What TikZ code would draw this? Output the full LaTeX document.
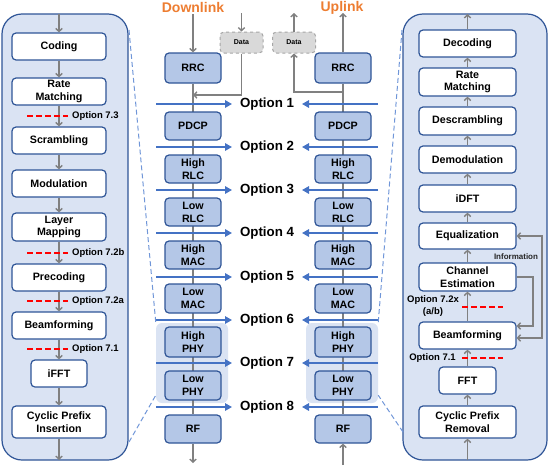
\documentclass[tikz,border=0pt]{standalone}
\usepackage{fontspec}
\setmainfont{Liberation Sans}
\usetikzlibrary{arrows.meta,calc}
\definecolor{bdr}{HTML}{2F5597}
\definecolor{bfill}{HTML}{B4C7E7}
\definecolor{pfill}{HTML}{DAE3F3}
\definecolor{oarr}{HTML}{4472C4}
\definecolor{gry}{HTML}{808080}
\definecolor{dfill}{HTML}{D9D9D9}
\definecolor{dbdr}{HTML}{A6A6A6}
\definecolor{orng}{HTML}{ED7D31}
\definecolor{zline}{HTML}{7096D8}
\pgfdeclarelayer{bga}\pgfdeclarelayer{bgb}\pgfsetlayers{bga,bgb,main}
\begin{document}
\begin{tikzpicture}[x=1pt,y=-1pt,
  wbox/.style={draw=bdr, line width=1.2pt, fill=white, rounded corners=4pt, inner sep=0pt, align=center,
    font=\fontsize{10.7}{12.8}\selectfont\bfseries, minimum height=27, minimum width=94},
  rbox/.style={wbox, minimum width=97},
  bbox/.style={wbox, fill=bfill, minimum width=56, minimum height=29},
  panel/.style={draw=bdr, line width=1.2pt, fill=pfill, rounded corners=20pt, inner sep=0pt},
  hl/.style={fill=pfill, rounded corners=6pt, inner sep=0pt, minimum width=72, minimum height=80},
  garr/.style={draw=gry, line width=1.4pt, -{Straight Barb[length=3pt,width=6.5pt]}},
  gline/.style={draw=gry, line width=1.4pt},
  oarrow/.style={draw=oarr, line width=1.5pt, -{Triangle[length=7pt,width=7.5pt]}},
  optlbl/.style={font=\fontsize{13.3}{15}\selectfont\bfseries, inner sep=0pt},
  reddash/.style={draw=red, line width=1.5pt, dash pattern=on 5.5pt off 3.5pt},
  sublbl/.style={font=\fontsize{9.5}{12}\selectfont\bfseries, inner sep=0pt, align=center},
  zoomln/.style={draw=zline, line width=1pt, dash pattern=on 5pt off 3pt},
  databox/.style={draw=dbdr, dashed, fill=dfill, rounded corners=4pt, line width=1pt, minimum width=43,
    minimum height=21, inner sep=0pt, font=\fontsize{7}{8}\selectfont\bfseries},
  title/.style={font=\fontsize{14}{16}\selectfont\bfseries, text=orng, inner sep=0pt},
]
\useasboundingbox (0,0) rectangle (549,466);

% panels and highlight boxes
\begin{pgfonlayer}{bga}
\node[panel, minimum width=126, minimum height=446] (lpanel) at (65,237) {};
\node[panel, minimum width=144, minimum height=446] (rpanel) at (475,237) {};
\node[hl] (dlhl) at (192,363) {};
\node[hl] (ulhl) at (342,363) {};
\end{pgfonlayer}

% titles
\node[title] (dltitle) at (193,7.5) {Downlink};
\node[title] (ultitle) at (342,7.5) {Uplink};

% ---------- left panel ----------
\node[wbox] (coding) at (59,46.5) {Coding};
\node[wbox] (lrm) at (59,91.5) {Rate\\Matching};
\node[wbox] (scr) at (59,140.5) {Scrambling};
\node[wbox] (mod) at (59,183.5) {Modulation};
\node[wbox, minimum height=28] (lm) at (59,227) {Layer\\Mapping};
\node[wbox] (pre) at (59,277.5) {Precoding};
\node[wbox] (lbf) at (59,325.5) {Beamforming};
\node[wbox, minimum width=56] (ifft) at (59,373.5) {iFFT};
\node[wbox, minimum height=32] (cpi) at (59,422) {Cyclic Prefix\\Insertion};
\coordinate (lptop) at (59,14);
\coordinate (lpbot) at (59,460);
\draw[garr] (lptop) -- (coding.north);
\draw[garr] (coding.south) -- (lrm.north);
\draw[garr] (lrm.south) -- (scr.north);
\draw[garr] (scr.south) -- (mod.north);
\draw[garr] (mod.south) -- (lm.north);
\draw[garr] (lm.south) -- (pre.north);
\draw[garr] (pre.south) -- (lbf.north);
\draw[garr] (lbf.south) -- (ifft.north);
\draw[garr] (ifft.south) -- (cpi.north);
\draw[garr] (cpi.south) -- (lpbot);
\foreach \yy/\lab/\nm in {116/7.3/la, 253/7.2b/lb, 301/7.2a/lc, 349/7.1/ld}{
  \coordinate (\nm s) at (27,\yy);
  \coordinate (\nm e) at (68,\yy);
  \draw[reddash] (\nm s) -- (\nm e);
  \node[sublbl, anchor=west] (\nm t) at (72,\yy) {Option \lab};
}

% ---------- right panel ----------
\node[rbox] (dec) at (467.5,43.5) {Decoding};
\node[rbox, minimum height=28] (rrm) at (467.5,82) {Rate\\Matching};
\node[rbox, minimum height=28] (desc) at (467.5,121) {Descrambling};
\node[rbox] (demod) at (467.5,159.5) {Demodulation};
\node[rbox] (idft) at (467.5,198.5) {iDFT};
\node[rbox, minimum height=26] (eq) at (467.5,236) {Equalization};
\node[rbox, minimum height=28] (ce) at (467.5,277) {Channel\\Estimation};
\node[rbox] (rbf) at (467.5,335.5) {Beamforming};
\node[rbox, minimum width=57] (fft) at (467.5,380.5) {FFT};
\node[rbox, minimum height=32] (cpr) at (467.5,422) {Cyclic Prefix\\Removal};
\coordinate (rptop) at (467.5,14);
\coordinate (rpbot) at (467.5,460);
\draw[garr] (rpbot) -- (cpr.south);
\draw[garr] (cpr.north) -- (fft.south);
\draw[garr] (fft.north) -- (rbf.south);
\draw[garr] (rbf.north) -- (ce.south);
\draw[garr] (ce.north) -- (eq.south);
\draw[garr] (eq.north) -- (idft.south);
\draw[garr] (idft.north) -- (demod.south);
\draw[garr] (demod.north) -- (desc.south);
\draw[garr] (desc.north) -- (rrm.south);
\draw[garr] (rrm.north) -- (dec.south);
\draw[garr] (dec.north) -- (rptop);
% feedback
\coordinate (f1) at (533,326);
\draw[garr] (ce.east) -| (f1) -- (rbf.east |- f1);
\coordinate (f2) at (542,338);
\coordinate (f3) at (542,236);
\draw[garr, {Straight Barb[length=3pt,width=6.5pt]}-{Straight Barb[length=3pt,width=6.5pt]}] (rbf.east |- f2) -- (f2) -- (f3) -- (eq.east |- f3);
\node[font=\fontsize{8}{9}\selectfont\bfseries, inner sep=0pt, text=black!85] (info) at (516,257) {Information};
% options
\node[sublbl] (o72x) at (433,306) {Option 7.2x\\(a/b)};
\coordinate (r1s) at (462,307);
\coordinate (r1e) at (503,307);
\draw[reddash] (r1s) -- (r1e);
\node[sublbl] (o71) at (432.5,358) {Option 7.1};
\coordinate (r2s) at (462,358);
\coordinate (r2e) at (503,358);
\draw[reddash] (r2s) -- (r2e);

% ---------- downlink column ----------
\node[bbox, minimum height=30] (rrc) at (193,68) {RRC};
\node[bbox, minimum height=28] (pdcp) at (193,126) {PDCP};
\node[bbox, minimum height=28] (hrlc) at (193,169) {High\\RLC};
\node[bbox, minimum height=28] (lrlc) at (193,212) {Low\\RLC};
\node[bbox, minimum height=28] (hmac) at (193,255) {High\\MAC};
\node[bbox] (lmac) at (193,298.5) {Low\\MAC};
\node[bbox, minimum height=30] (hphy) at (193,342) {High\\PHY};
\node[bbox] (lphy) at (193,385.5) {Low\\PHY};
\node[bbox, minimum height=28] (rf) at (193,429) {RF};
\coordinate (dltop) at (193,14);
\coordinate (dlbot) at (193,463);
\draw[garr] (dltop) -- (rrc.north);
\begin{pgfonlayer}{bgb}
\draw[gline] (rrc.south) -- (rf.north);
\end{pgfonlayer}
\draw[garr] (rf.south) -- (dlbot);
\node[databox] (dld) at (241.5,42.5) {Data};
\coordinate (dldtop) at (241.5,13);
\coordinate (dlj) at (193,95);
\draw[garr] (dldtop) -- (dld.north);
\draw[garr] (dld.south) |- (dlj);

% ---------- uplink column ----------
\node[bbox, minimum height=30] (urrc) at (343,68) {RRC};
\node[bbox, minimum height=28] (updcp) at (343,126) {PDCP};
\node[bbox, minimum height=28] (uhrlc) at (343,169) {High\\RLC};
\node[bbox, minimum height=28] (ulrlc) at (343,212) {Low\\RLC};
\node[bbox, minimum height=28] (uhmac) at (343,255) {High\\MAC};
\node[bbox] (ulmac) at (343,298.5) {Low\\MAC};
\node[bbox, minimum height=30] (uhphy) at (343,342) {High\\PHY};
\node[bbox] (ulphy) at (343,385.5) {Low\\PHY};
\node[bbox, minimum height=28] (urf) at (343,429) {RF};
\coordinate (ultop) at (343,13);
\coordinate (ulbot) at (343,465);
\draw[garr] (urrc.north) -- (ultop);
\begin{pgfonlayer}{bgb}
\draw[gline] (urrc.south) -- (urf.north);
\end{pgfonlayer}
\draw[garr] (ulbot) -- (urf.south);
\node[databox] (uld) at (294,42.5) {Data};
\coordinate (uldtop) at (294,13);
\coordinate (ulj) at (343,92);
\draw[garr] (ulj) -| (uld.south);
\draw[garr] (uld.north) -- (uldtop);

% ---------- option arrows ----------
\foreach \yy [count=\i] in {104,147,190,233,277,320,363,407}{
  \coordinate (da\i) at (156,\yy);
  \coordinate (db\i) at (232,\yy);
  \coordinate (ua\i) at (378,\yy);
  \coordinate (ub\i) at (302,\yy);
  \draw[oarrow] (da\i) -- (db\i);
  \draw[oarrow] (ua\i) -- (ub\i);
  \node[optlbl] (opt\i) at (267,\yy) {Option \i};
}

% ---------- zoom lines ----------
\coordinate (zl1) at (129,30);
\coordinate (zl2) at (129,442);
\coordinate (zr1) at (402,30);
\coordinate (zr2) at (403,432);
\draw[zoomln] (zl1) -- (dlhl.north west);
\draw[zoomln] (zl2) -- ([yshift=8pt]dlhl.south west);
\draw[zoomln] (zr1) -- (ulhl.north east);
\draw[zoomln] (zr2) -- ([yshift=8pt]ulhl.south east);
\end{tikzpicture}
\end{document}
